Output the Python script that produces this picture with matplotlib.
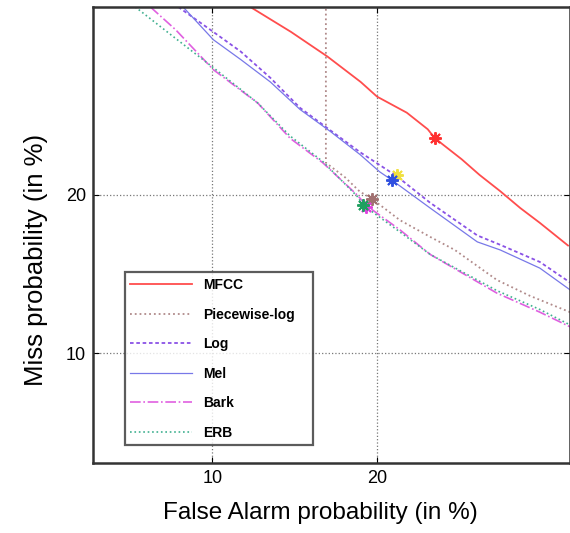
import matplotlib
matplotlib.use('Agg')
import matplotlib.pyplot as plt
import numpy as np
from statistics import NormalDist

plt.rcParams['font.family'] = ['Liberation Sans', 'DejaVu Sans']

# DET curves, false alarm / miss probabilities in %
mfcc_fa = [11.9, 14.2, 16.5, 18.8, 20.0, 22.3, 24.0, 24.6, 26.9, 28.5, 30.4, 32.3, 34.2, 37.0]
mfcc_miss = [37.5, 34.9, 32.4, 29.9, 28.5, 27.0, 25.5, 24.7, 22.9, 21.6, 20.3, 19.0, 17.9, 16.3]

pwlog_fa = [16.4, 16.4, 17.7, 18.75, 19.5, 21.75, 24.2, 26.3, 30.1, 33.2, 37.2]
pwlog_miss = [37.8, 22.6, 21.4, 20.25, 19.8, 18.1, 16.9, 16.0, 14.05, 13.1, 12.15]

log_fa = [8.5, 10.05, 11.4, 13.0, 14.75, 16.7, 18.75, 21.5, 24.2, 28.3, 30.4, 34.2, 37.2]
log_miss = [37.5, 34.9, 32.9, 30.3, 27.45, 25.4, 23.5, 21.5, 19.4, 17.0, 16.35, 15.2, 13.9]

mel_fa = [8.7, 10.05, 11.4, 13.0, 14.75, 16.7, 18.75, 20.2, 21.1, 24.2, 28.3, 30.4, 34.2, 37.2]
mel_miss = [37.5, 34.1, 32.1, 29.9, 27.3, 25.3, 23.3, 21.85, 21.2, 19.0, 16.55, 16.0, 14.8, 13.45]

bark_fa = [7.4, 8.4, 10.05, 12.3, 14.15, 16.2, 18.55, 19.2, 21.75, 24.2, 30.1, 34.2, 37.2]
bark_miss = [37.5, 35.1, 31.1, 27.9, 24.7, 22.6, 20.0, 19.2, 17.4, 15.7, 13.25, 12.15, 11.35]

erb_fa = [6.85, 8.2, 10.05, 12.3, 14.15, 16.2, 18.55, 19.0, 21.75, 24.2, 30.1, 34.2, 37.2]
erb_miss = [37.5, 34.6, 31.3, 27.9, 24.9, 22.7, 19.9, 19.2, 17.25, 15.7, 13.4, 12.3, 11.45]

# equal error rate points
eer_fa = [24.6, 19.6, 21.5, 21.1, 19.2, 19.0]
eer_miss = [24.7, 19.7, 21.6, 21.2, 19.1, 19.2]
eer_colors = ['#ff3030', '#a07070', '#f0e040', '#3050e0', '#e040e0', '#20a060']

names = ['MFCC', 'Piecewise-log', 'Log', 'Mel', 'Bark', 'ERB']
colors = ['#ff4d4d', '#b08a8a', '#8a52e6', '#7878e8', '#e060e0', '#40b090']
styles = ['-', ':', (0, (2, 1.5)), '-', '-.', ':']
widths = [1.3, 1.3, 1.3, 0.9, 1.2, 1.2]

ticks = [10, 20]


def probit(p):
    # percent -> normal deviate
    nd = NormalDist()
    return np.array([nd.inv_cdf(v / 100.0) for v in np.atleast_1d(p)])


fig = plt.figure(figsize=(5.7, 5.33), dpi=100)
ax = fig.add_axes([0.163, 0.131, 0.837, 0.856])

curves = [(mfcc_fa, mfcc_miss), (pwlog_fa, pwlog_miss), (log_fa, log_miss),
          (mel_fa, mel_miss), (bark_fa, bark_miss), (erb_fa, erb_miss)]
for (fa, miss), name, c, ls, lw in zip(curves, names, colors, styles, widths):
    ax.plot(probit(fa), probit(miss), color=c, linestyle=ls, linewidth=lw, label=name)

for fa, miss, c in zip(eer_fa, eer_miss, eer_colors):
    ax.plot(probit(fa), probit(miss), marker=(8, 2, 0), markersize=9,
            markeredgewidth=1.4, color=c, linestyle='none')

ax.set_xlim(probit(5.48)[0], probit(37.2)[0])
ax.set_ylim(probit(5.62)[0], probit(37.5)[0])
ax.set_xticks(probit(ticks))
ax.set_xticklabels([str(t) for t in ticks])
ax.set_yticks(probit(ticks))
ax.set_yticklabels([str(t) for t in ticks])
ax.tick_params(direction='in', top=True, right=True, length=4, labelsize=13, pad=5)
ax.grid(True, color='#777777', linestyle=':', linewidth=0.9)

for sp in ax.spines.values():
    sp.set_linewidth(1.8)
    sp.set_color('#333333')

ax.set_xlabel('False Alarm probability (in %)', fontsize=17.5)
ax.set_ylabel('Miss probability (in %)', fontsize=18.5)
ax.xaxis.set_label_coords(0.476, -0.085)
ax.yaxis.set_label_coords(-0.094, 0.445)

leg = ax.legend(loc='lower left', bbox_to_anchor=(0.067, 0.039, 0.394, 0.384),
                mode='expand', fancybox=False, labelspacing=1.12,
                handlelength=4.4, handletextpad=0.8, borderaxespad=0, borderpad=0.4,
                prop={'weight': 'bold', 'size': 10})
leg.get_frame().set_edgecolor('#333333')
leg.get_frame().set_linewidth(1.6)

fig.savefig('out.png', dpi=100)
